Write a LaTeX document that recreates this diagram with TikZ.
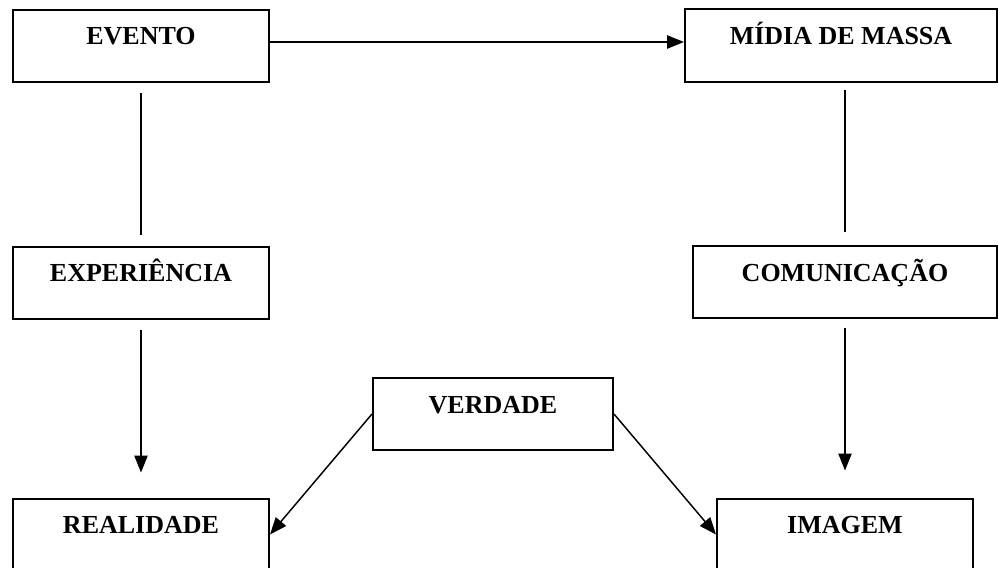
\documentclass[tikz,border=0pt]{standalone}
\usepackage{fontspec}
\setmainfont{Liberation Serif}
\usetikzlibrary{arrows.meta}

\tikzset{
  conceito/.style={draw,line width=1.5pt,inner xsep=0pt,inner ysep=0pt,
    text height=26.25pt,text depth=27.75pt,
    font=\fontsize{19.5}{23}\selectfont\bfseries},
  liga/.style={line width=1.1pt},
  seta/.style={line width=1.1pt,-{Triangle[length=12.75pt,width=10pt]}}
}

\begin{document}
\begin{tikzpicture}[x=0.75pt,y=-0.75pt]
  \useasboundingbox (0,0) rectangle (998,567);

  % coluna da esquerda
  \node[conceito,minimum width=192pt] (evento) at (141,46) {EVENTO};
  \node[conceito,minimum width=192pt] (experiencia) at (141,282.5) {EXPERIÊNCIA};
  \node[conceito,minimum width=192pt] (realidade) at (141,534.5) {REALIDADE};

  % coluna da direita
  \node[conceito,minimum width=234pt] (midia) at (841,45.5) {MÍDIA DE MASSA};
  \node[conceito,minimum width=228pt] (comunicacao) at (845,282) {COMUNICAÇÃO};
  \node[conceito,minimum width=192pt] (imagem) at (845,534.5) {IMAGEM};

  % centro
  \node[conceito,minimum width=180pt] (verdade) at (493,414) {VERDADE};

  \draw[seta] ([yshift=3pt]evento.east) -- ([yshift=3pt]evento.east -| midia.west);

  \draw[liga,shorten <=7.5pt,shorten >=8.25pt] (evento) -- (experiencia);
  \draw[liga,shorten <=5.25pt,shorten >=9.75pt] (midia.south -| comunicacao) -- (comunicacao);

  \draw[seta,shorten <=7.5pt,shorten >=18.75pt] (experiencia) -- (realidade);
  \draw[seta,shorten <=6.75pt,shorten >=20.25pt] (comunicacao) -- (imagem);

  \draw[seta] (verdade.west) -- (realidade.east);
  \draw[seta] (verdade.east) -- (imagem.west);
\end{tikzpicture}
\end{document}
